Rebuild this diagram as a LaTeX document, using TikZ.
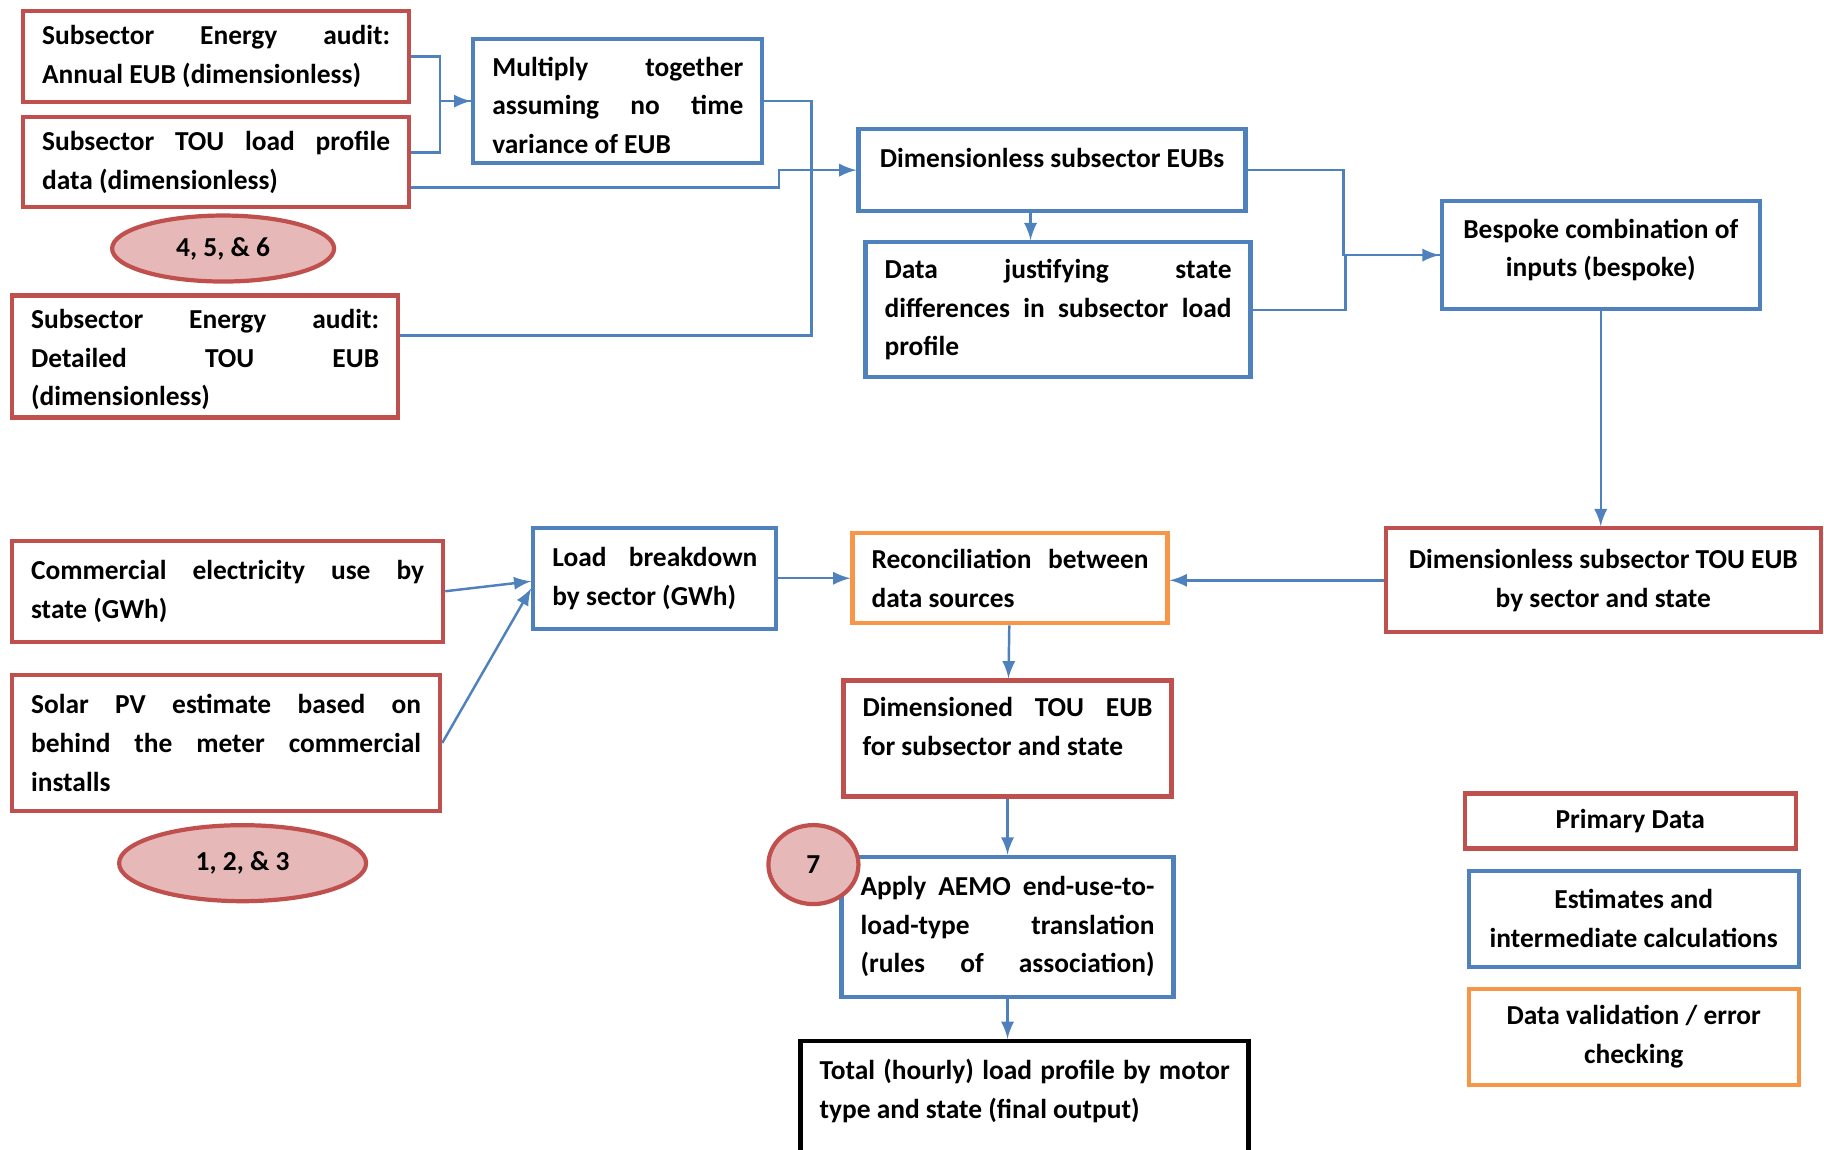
\documentclass[tikz,border=0pt]{standalone}
\usepackage{fontspec}
\setmainfont{Carlito}
\usetikzlibrary{arrows, shapes, positioning}

\definecolor{boxred}{RGB}{192,80,77}
\definecolor{boxblue}{RGB}{79,129,189}
\definecolor{boxorange}{RGB}{247,150,70}
\definecolor{refpink}{RGB}{230,185,184}

\hyphenpenalty=10000
\exhyphenpenalty=10000

\tikzset{
    box/.style={rectangle, draw, line width=1.2pt, fill=white, inner xsep=0.19cm, inner ysep=0pt,
        font=\fontsize{7.8}{11}\selectfont\bfseries, align=justify},
    primary/.style={box, draw=boxred},
    estimate/.style={box, draw=boxblue},
    check/.style={box, draw=boxorange},
    output/.style={box, draw=black},
    refs/.style={ellipse, draw=boxred, fill=refpink, line width=1.2pt, inner sep=0pt,
        font=\fontsize{7.8}{11}\selectfont\bfseries},
    link/.style={draw=boxblue, line width=0.7pt},
}

\begin{document}
\begin{tikzpicture}
    \useasboundingbox (0,0) rectangle (18.24,-11.5);
    \clip (0,0) rectangle (18.24,-11.5);

    % top half: subsector profiles
    \node[primary, text width=3.48cm, minimum height=0.91cm, anchor=north west] (auditA) at (0.21,-0.09)
        {Subsector Energy audit:\linebreak Annual EUB (dimensionless)};
    \node[primary, text width=3.48cm, minimum height=0.90cm, below=0.11cm of auditA.south west, anchor=north west] (touB)
        {Subsector TOU load profile\linebreak data (dimensionless)};
    \node[refs, minimum width=2.22cm, minimum height=0.66cm, below=0.04cm of touB, xshift=0.07cm] (refsA) {4, 5, \& 6};
    \node[primary, text width=3.48cm, minimum height=1.22cm, below=0.84cm of touB.south west, anchor=north west, xshift=-0.11cm] (auditC)
        {\mbox{}\\[-0.13cm]Subsector Energy audit:\linebreak Detailed TOU EUB\linebreak (dimensionless)};
    \node[estimate, text width=2.51cm, minimum height=1.24cm, right=0.60cm of auditA.north east, anchor=north west, yshift=-0.28cm] (multiply)
        {\mbox{}\\[-0.11cm]Multiply together\linebreak assuming no time\linebreak variance of EUB};
    \node[estimate, minimum width=3.87cm, minimum height=0.82cm, align=left, right=0.92cm of multiply.north east, anchor=north west, yshift=-0.90cm] (eubs)
        {Dimensionless subsector EUBs\\[-0.14cm]\mbox{}};
    \node[estimate, text width=3.47cm, minimum height=1.35cm, below=0.27cm of eubs.south west, anchor=north west, xshift=0.07cm] (datajust)
        {Data justifying state\linebreak differences in subsector load\linebreak profile};
    \node[estimate, minimum width=3.18cm, minimum height=1.08cm, align=center, right=1.92cm of eubs.north east, anchor=north west, yshift=-0.72cm] (bespoke)
        {Bespoke combination of\\ inputs (bespoke)\\[-0.24cm]\mbox{}};
    \node[primary, minimum width=4.35cm, minimum height=1.04cm, align=center, below=2.15cm of bespoke, xshift=0.025cm] (dimtou)
        {Dimensionless subsector TOU EUB\\ by sector and state};

    % bottom half: sector totals
    \node[primary, text width=3.93cm, minimum height=1.01cm, below=1.19cm of auditC.south west, anchor=north west] (commercial)
        {Commercial electricity use by\linebreak state (GWh)};
    \node[primary, text width=3.90cm, minimum height=1.36cm, below=0.29cm of commercial.south west, anchor=north west] (solar)
        {Solar PV estimate based on\linebreak behind the meter commercial\linebreak installs};
    \node[refs, minimum width=2.47cm, minimum height=0.76cm, below=0.10cm of solar, xshift=0.165cm] (refsB) {1, 2, \& 3};
    \node[estimate, text width=2.05cm, minimum height=1.01cm, right=0.86cm of commercial.north east, anchor=north west, yshift=0.13cm] (load)
        {Load breakdown\linebreak by sector (GWh)};
    \node[check, text width=2.77cm, minimum height=0.90cm, right=0.72cm of load] (recon)
        {Reconciliation between\linebreak data sources};
    \node[primary, text width=2.90cm, minimum height=1.16cm, below=0.53cm of recon, xshift=-0.025cm] (dimd)
        {Dimensioned TOU EUB\linebreak for subsector and state\\[-0.14cm]\mbox{}};
    \node[estimate, text width=2.94cm, minimum height=1.40cm, below=0.56cm of dimd] (aemo)
        {Apply AEMO end-use-to-\linebreak load-type translation\linebreak \makebox[\linewidth][s]{(rules of association)}};
    \node[refs, minimum width=0.90cm, minimum height=0.79cm] (refsC) at ([xshift=-0.26cm,yshift=-0.10cm]aemo.north west) {7};
    \node[output, text width=4.10cm, minimum height=1.51cm, below=0.40cm of aemo, xshift=0.17cm] (total)
        {Total (hourly) load profile by motor\linebreak type and state (final output)\\[0.16cm]\mbox{}};

    % legend
    \node[primary, minimum width=3.31cm, minimum height=0.55cm, align=center, below=1.57cm of dimtou.south west, anchor=north west, xshift=0.79cm] (keyprimary)
        {Primary Data};
    \node[estimate, minimum width=3.30cm, minimum height=0.96cm, align=center, below=0.18cm of keyprimary, xshift=0.035cm] (keyestimate)
        {Estimates and\\ intermediate calculations};
    \node[check, minimum width=3.30cm, minimum height=0.96cm, align=center, below=0.18cm of keyestimate] (keycheck)
        {Data validation / error\\ checking};

    % connectors
    \draw[link, -latex] (auditA.east) -- ++(0.29,0) |- (multiply.west);
    \draw[link] ([yshift=0.1cm]touB.east) -- ++(0.29,0) |- (multiply.west);
    \draw[link, -latex] ([yshift=-0.25cm]touB.east) -- ++(3.68,0) |- (eubs.west);
    \draw[link] (multiply.east) -- ++(0.47,0) |- ([yshift=0.21cm]auditC.east);
    \draw[link, -latex] ([xshift=-0.215cm]eubs.south) -- ([xshift=-0.215cm]eubs.south |- datajust.north);
    \draw[link, -latex] (eubs.east) -- ++(0.96,0) |- (bespoke.west);
    \draw[link] (datajust.east) -- ++(0.93,0) |- (bespoke.west);
    \draw[link, -latex] (bespoke.south) -- (bespoke.south |- dimtou.north);
    \draw[link, -latex] (dimtou.west) -- (dimtou.west -| recon.east);
    \draw[link, -latex] (commercial.east) -- ([yshift=-0.03cm]load.west);
    \draw[link, -latex] (solar.east) -- ([yshift=-0.1cm]load.west);
    \draw[link, -latex] (load) -- (recon);
    \draw[link, -latex] (recon) -- (dimd);
    \draw[link, -latex] (dimd) -- (aemo);
    \draw[link, -latex] (aemo.south) -- (aemo.south |- total.north);
\end{tikzpicture}
\end{document}
